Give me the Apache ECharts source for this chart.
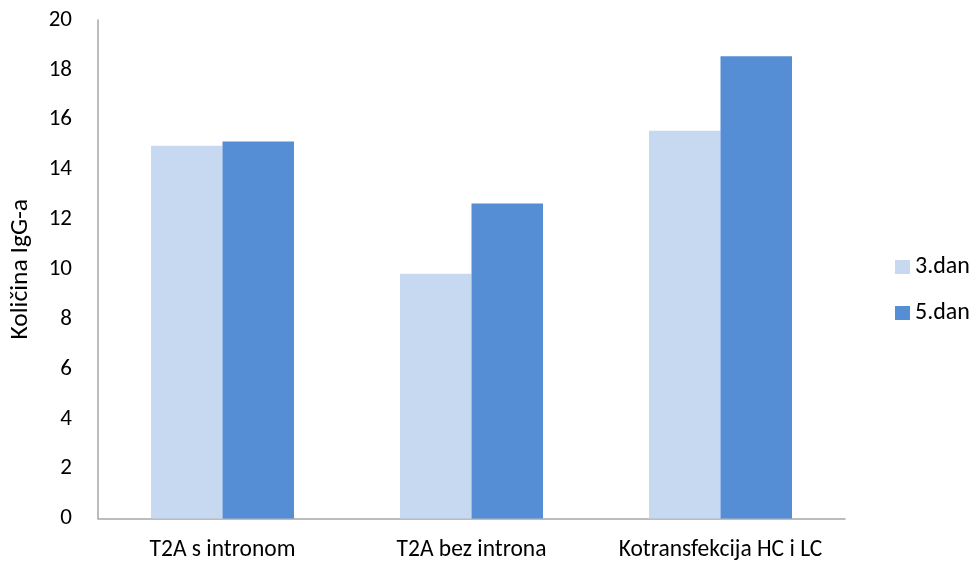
<!DOCTYPE html>
<html><head><meta charset="utf-8">
<script src="https://cdn.jsdelivr.net/npm/echarts@6/dist/echarts.min.js"></script>
<style>html,body{margin:0;padding:0;background:#fff}#c{width:979px;height:568px}</style>
</head><body><div id="c"></div>
<script>
const categories = ['T2A s intronom', 'T2A bez introna', 'Kotransfekcija HC i LC'];
const seriesNames = ['3.dan', '5.dan'];
const day3 = [14.95, 9.82, 15.56];
const day5 = [15.13, 12.64, 18.55];
const yTicks = [0, 20, 2];
const FONT = 'Carlito, Calibri, Lato, sans-serif';
const chart = echarts.init(document.getElementById('c'));
chart.setOption({
  animation: false,
  textStyle: { fontFamily: FONT },
  grid: { left: 98, right: 134, top: 20, bottom: 49.5, outerBoundsMode: 'none', containLabel: false },
  legend: {
    orient: 'vertical', left: 890, top: 250, itemWidth: 15, itemHeight: 14, itemGap: 22,
    icon: 'rect',
    textStyle: { fontSize: 24, color: '#000', fontFamily: FONT },
    data: seriesNames
  },
  xAxis: {
    type: 'category', data: categories,
    axisLine: { lineStyle: { color: '#a6a6a6', width: 1.5 } },
    axisTick: { show: false },
    axisLabel: { fontSize: 23.5, color: '#000', margin: 20, interval: 0, fontFamily: FONT }
  },
  yAxis: {
    type: 'value', min: yTicks[0], max: yTicks[1], interval: yTicks[2],
    name: 'Količina IgG-a', nameLocation: 'middle', nameGap: 64, nameRotate: 90,
    nameTextStyle: { fontSize: 25.5, color: '#000', fontFamily: FONT },
    axisLine: { show: true, lineStyle: { color: '#a6a6a6', width: 1.5 } },
    axisTick: { show: false },
    splitLine: { show: false },
    axisLabel: { fontSize: 23, color: '#000', margin: 26, fontFamily: FONT }
  },
  series: [
    { name: seriesNames[0], type: 'bar', data: day3, barWidth: 71.5, barGap: '0%',
      itemStyle: { color: '#C6D9F1' } },
    { name: seriesNames[1], type: 'bar', data: day5, barWidth: 71.5, barGap: '0%',
      itemStyle: { color: '#558ED5' } }
  ]
});
</script></body></html>
